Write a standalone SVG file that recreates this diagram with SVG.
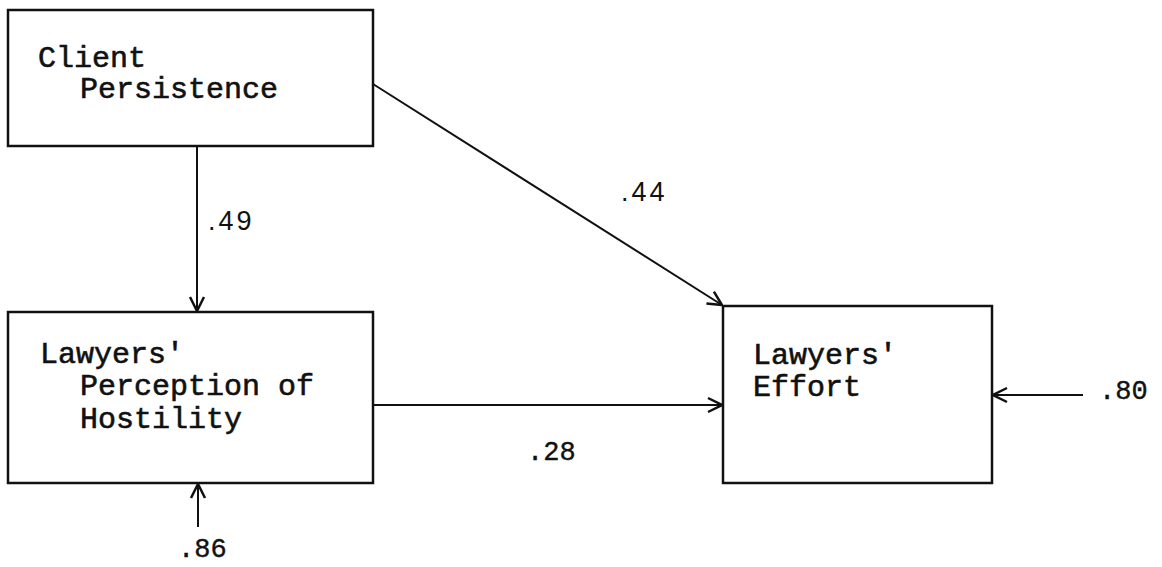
<svg xmlns="http://www.w3.org/2000/svg" width="1162" height="567" viewBox="0 0 1162 567">
<style>
.box{fill:none;stroke:#111;stroke-width:2.5}
.lbl{font-family:"Liberation Mono",monospace;font-size:30px;fill:#111;stroke:#111;stroke-width:0.6}
.num{font-family:"Liberation Sans",Arial,sans-serif;font-size:27px;fill:#111;letter-spacing:3px}
.numm{font-family:"Liberation Mono",monospace;font-size:27px;fill:#111;stroke:#111;stroke-width:0.4}
.con{fill:none;stroke:#111;stroke-width:2;marker-end:url(#ah)}
</style>
<defs>
<marker id="ah" viewBox="0 0 20 20" refX="19" refY="10" markerWidth="20" markerHeight="20" markerUnits="userSpaceOnUse" orient="auto">
<path d="M5,3 L19,10 L5,17" fill="none" stroke="#111" stroke-width="2.5"/>
</marker>
</defs>
<rect width="1162" height="567" fill="#fff"/>
<g id="client-persistence">
<rect class="box" x="8" y="10" width="365" height="136"/>
<text class="lbl" x="38" y="67">Client</text>
<text class="lbl" x="80" y="98">Persistence</text>
</g>
<g id="perception-hostility">
<rect class="box" x="8" y="312" width="365" height="171"/>
<text class="lbl" x="40" y="363">Lawyers'</text>
<text class="lbl" x="80" y="395">Perception of</text>
<text class="lbl" x="80" y="428">Hostility</text>
</g>
<g id="lawyers-effort">
<rect class="box" x="723" y="306" width="269" height="177"/>
<text class="lbl" x="753" y="364">Lawyers'</text>
<text class="lbl" x="753" y="396">Effort</text>
</g>
<g id="connectors">
<line class="con" x1="197" y1="146" x2="197" y2="311"/>
<line class="con" x1="373" y1="84" x2="722" y2="305"/>
<line class="con" x1="373" y1="405" x2="722" y2="405"/>
<line class="con" x1="1083" y1="395" x2="993" y2="395"/>
<line class="con" x1="198" y1="527" x2="198" y2="484"/>
<text class="num" x="208" y="230">.49</text>
<text class="num" x="621" y="201">.44</text>
<text class="numm" x="527" y="460">.28</text>
<text class="numm" x="1099" y="399">.80</text>
<text class="numm" x="178" y="557">.86</text>
</g>
</svg>
